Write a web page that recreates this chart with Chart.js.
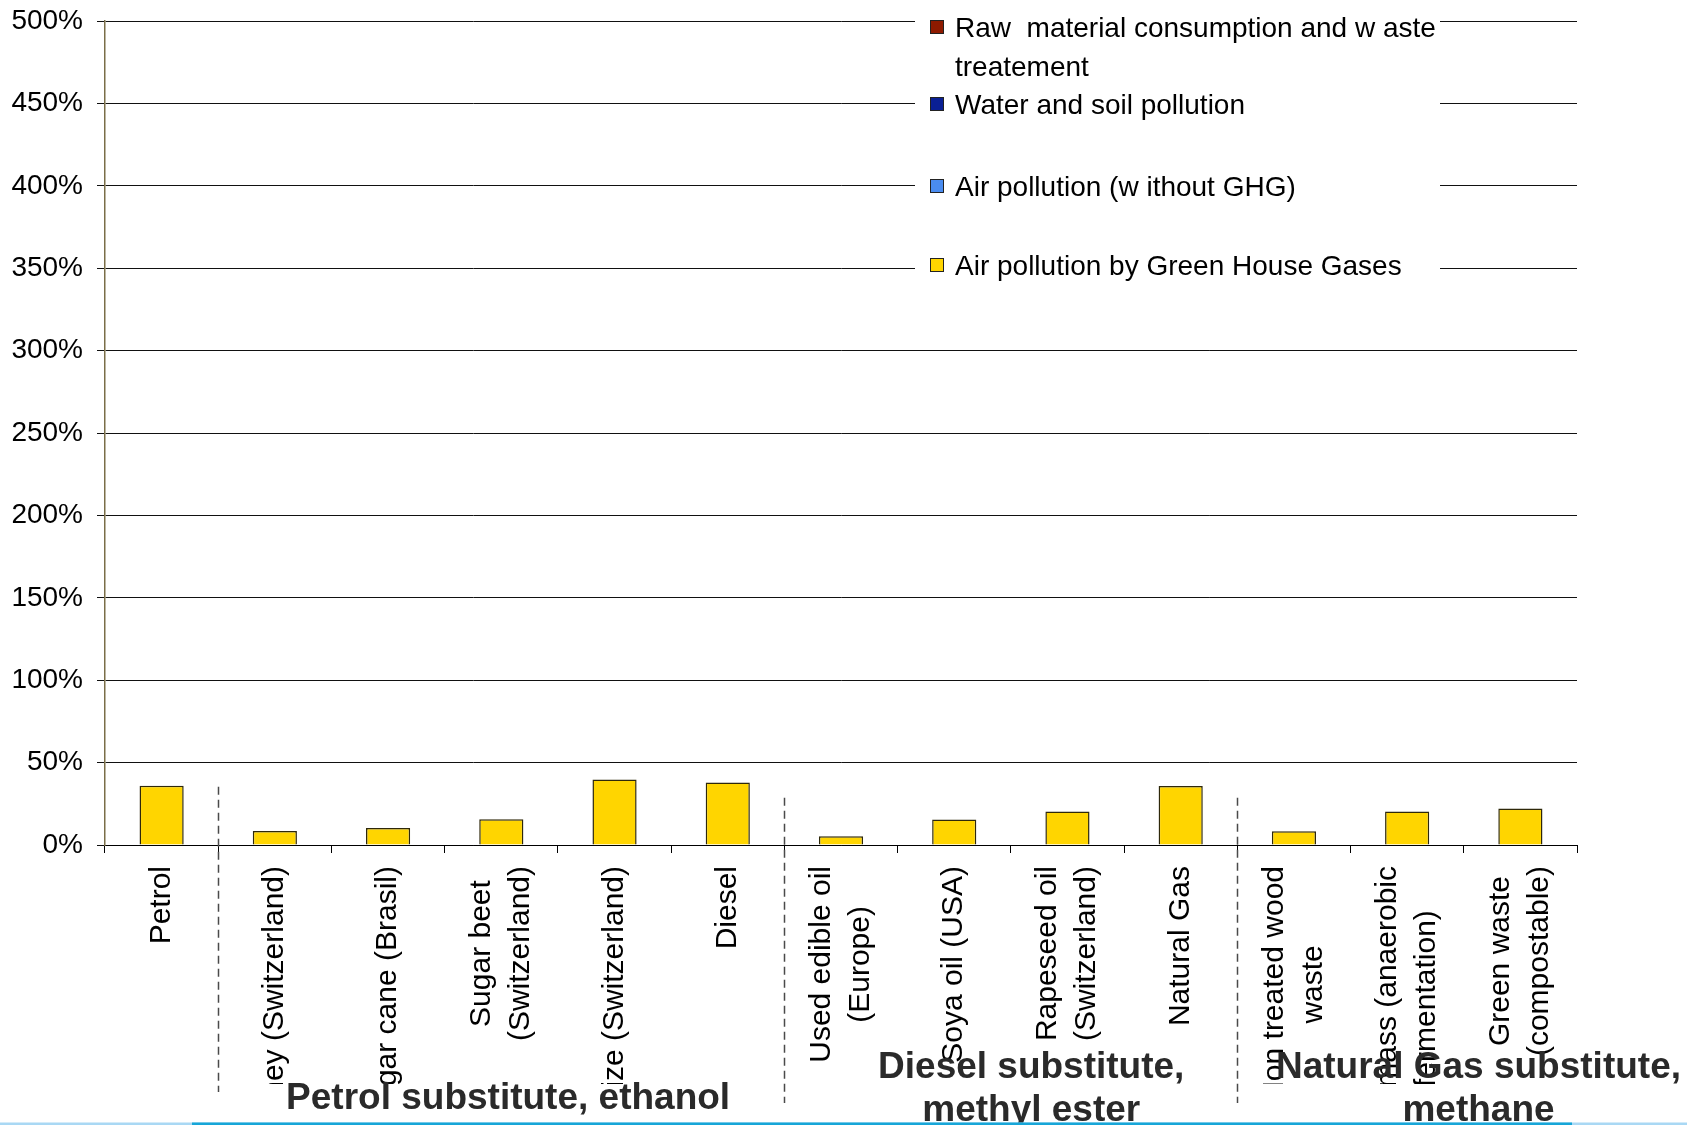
<!DOCTYPE html>
<html>
<head>
<meta charset="utf-8">
<script src="https://cdn.jsdelivr.net/npm/chart.js@4.4.1/dist/chart.umd.min.js"></script>
<style>
    html, body { margin: 0; padding: 0; background: #fff; }
    #wrap { position: relative; width: 1687px; height: 1125px; overflow: hidden; }
    #chart { position: absolute; left: 0; top: 0; }
    #legend {
        position: absolute; left: 915px; top: 6px; width: 525px; height: 272px;
        background: #fff; color: #000;
        font-family: 'Liberation Sans', Arial, sans-serif; font-size: 28px;
    }
    .item { position: absolute; left: 15px; width: 510px; }
    .swatch { position: absolute; left: 0; width: 12px; height: 12px; border: 1px solid #222; }
    .label { position: absolute; left: 25px; width: 495px; line-height: 39px; white-space: pre-wrap; }
</style>
</head>
<body>
<div id="wrap">
    <canvas id="chart" width="1687" height="1125"></canvas>
    <div id="legend"></div>
</div>
<script>
// categories (x axis), one array per label line
const categories = [
    ['Petrol'],
    ['Whey (Switzerland)'],
    ['Sugar cane (Brasil)'],
    ['Sugar beet', '(Switzerland)'],
    ['Maize (Switzerland)'],
    ['Diesel'],
    ['Used edible oil', '(Europe)'],
    ['Soya oil (USA)'],
    ['Rapeseed oil', '(Switzerland)'],
    ['Natural Gas'],
    ['Non treated wood', 'waste'],
    ['Biomass (anaerobic', 'fermentation)'],
    ['Green waste', '(compostable)']
];

// series, in % (stacked, bottom first)
const ghgValues      = [36, 8.5, 10.3, 15.7, 39.7, 37.9, 5.3, 15.5, 20.3, 35.8, 8.3, 20.3, 22.2];
const airOtherValues = [0, 0, 0, 0, 0, 0, 0, 0, 0, 0, 0, 0, 0];
const waterValues    = [0, 0, 0, 0, 0, 0, 0, 0, 0, 0, 0, 0, 0];
const rawValues      = [0, 0, 0, 0, 0, 0, 0, 0, 0, 0, 0, 0, 0];

const seriesNames = [
    'Air pollution by Green House Gases',
    'Air pollution (w ithout GHG)',
    'Water and soil pollution',
    'Raw  material consumption and w aste treatement'
];
const seriesColors = ['#FFD500', '#4A8CF0', '#0A1F94', '#8E1A00'];

// groups of categories under the axis
const groupLabels = [
    ['Petrol substitute, ethanol'],
    ['Diesel substitute,', 'methyl ester'],
    ['Natural Gas substitute,', 'methane']
];
const groupFirstIndex = [1, 6, 10];

// y axis
const yMin = 0, yMax = 500, yStep = 50;

// layout only
const groupLabelCenter = [3.06, 7.68, 11.63];   // in category units
const groupLabelBaseline = [1109, 1078, 1078];
const separatorTopValue = [35.4, 28.7, 28.7];
const separatorBottom = [1092, 1103, 1103];
const labelTop = 866, labelClip = 1084, labelLine = 39;
const legendCenters = [21, 98, 180, 259];

Chart.defaults.font.family = "'Liberation Sans', Arial, sans-serif";
Chart.defaults.color = '#000';

// legend (top entry = top of stack)
const legend = document.getElementById('legend');
for (let k = 0; k < seriesNames.length; k++) {
    const s = seriesNames.length - 1 - k;
    const item = document.createElement('div');
    item.className = 'item';
    item.style.top = legendCenters[k] + 'px';
    const sw = document.createElement('div');
    sw.className = 'swatch';
    sw.style.top = '-7px';
    sw.style.background = seriesColors[s];
    const lb = document.createElement('div');
    lb.className = 'label';
    lb.style.top = '-19.5px';
    lb.textContent = seriesNames[s];
    item.appendChild(sw);
    item.appendChild(lb);
    legend.appendChild(item);
}

const decorations = {
    id: 'decorations',
    afterDraw(chart) {
        const ctx = chart.ctx;
        const x = chart.scales.x;
        const y = chart.scales.y;
        const step = x.getPixelForValue(1) - x.getPixelForValue(0);

        // rotated category labels, lines centred, clipped at the bottom
        ctx.save();
        ctx.beginPath();
        ctx.rect(0, chart.chartArea.bottom, chart.width, labelClip - chart.chartArea.bottom);
        ctx.clip();
        ctx.font = '30px "Liberation Sans", Arial, sans-serif';
        ctx.fillStyle = '#000';
        ctx.textAlign = 'center';
        ctx.textBaseline = 'middle';
        categories.forEach((lines, i) => {
            const len = Math.max(...lines.map(l => ctx.measureText(l).width));
            ctx.save();
            ctx.translate(x.getPixelForValue(i), labelTop);
            ctx.rotate(-Math.PI / 2);
            lines.forEach((l, j) => {
                ctx.fillText(l, -len / 2, (j - (lines.length - 1) / 2) * labelLine);
            });
            ctx.restore();
        });
        ctx.restore();

        // dashed separators
        ctx.save();
        ctx.strokeStyle = '#4a4a4a';
        ctx.lineWidth = 1.5;
        ctx.setLineDash([8, 5]);
        groupFirstIndex.forEach((first, g) => {
            const px = Math.round(x.getPixelForValue(first) - step / 2) + 0.5;
            ctx.beginPath();
            ctx.moveTo(px, y.getPixelForValue(separatorTopValue[g]));
            ctx.lineTo(px, separatorBottom[g]);
            ctx.stroke();
        });
        ctx.restore();

        // group titles
        ctx.save();
        ctx.font = 'bold 37px "Liberation Sans", Arial, sans-serif';
        ctx.fillStyle = '#2a2a2a';
        ctx.textAlign = 'center';
        ctx.textBaseline = 'alphabetic';
        groupLabels.forEach((lines, g) => {
            const cx = x.getPixelForValue(0) + groupLabelCenter[g] * step;
            lines.forEach((l, j) => ctx.fillText(l, cx, groupLabelBaseline[g] + j * 43));
        });
        ctx.restore();

        // slide rule at the bottom
        ctx.save();
        ctx.fillStyle = '#A9D8F4';
        ctx.fillRect(0, 1122.5, chart.width, 2.5);
        ctx.fillStyle = '#17A6D8';
        ctx.fillRect(192, 1122.5, 1380, 2.5);
        ctx.restore();
    }
};

const valueSets = [ghgValues, airOtherValues, waterValues, rawValues];

new Chart(document.getElementById('chart'), {
    type: 'bar',
    data: {
        labels: categories,
        datasets: valueSets.map((vals, s) => ({
            label: seriesNames[s],
            data: vals,
            backgroundColor: seriesColors[s],
            borderColor: '#2e280a',
            borderWidth: 1.5,
            categoryPercentage: 1,
            barPercentage: 0.39
        }))
    },
    options: {
        responsive: false,
        animation: false,
        layout: { padding: { top: 21, right: 110, left: 0, bottom: 0 } },
        plugins: {
            legend: { display: false },
            tooltip: { enabled: false }
        },
        scales: {
            x: {
                stacked: true,
                afterFit: scale => { scale.height = 280; },
                border: { color: '#000', width: 1 },
                grid: { drawOnChartArea: false, color: '#000', tickLength: 8, offset: true },
                ticks: { display: false }
            },
            y: {
                stacked: true,
                min: yMin,
                max: yMax,
                afterFit: scale => {
                    scale.width = 105;
                    // first/last label would otherwise push the plot down
                    scale.paddingTop = 0;
                    scale.paddingBottom = 0;
                },
                border: { color: '#7a6e48', width: 1.5 },
                grid: { color: '#111', tickLength: 8 },
                ticks: {
                    stepSize: yStep,
                    padding: 14,
                    font: { size: 28 },
                    color: '#000',
                    callback: v => v + '%'
                }
            }
        }
    },
    plugins: [decorations]
});
</script>
</body>
</html>
